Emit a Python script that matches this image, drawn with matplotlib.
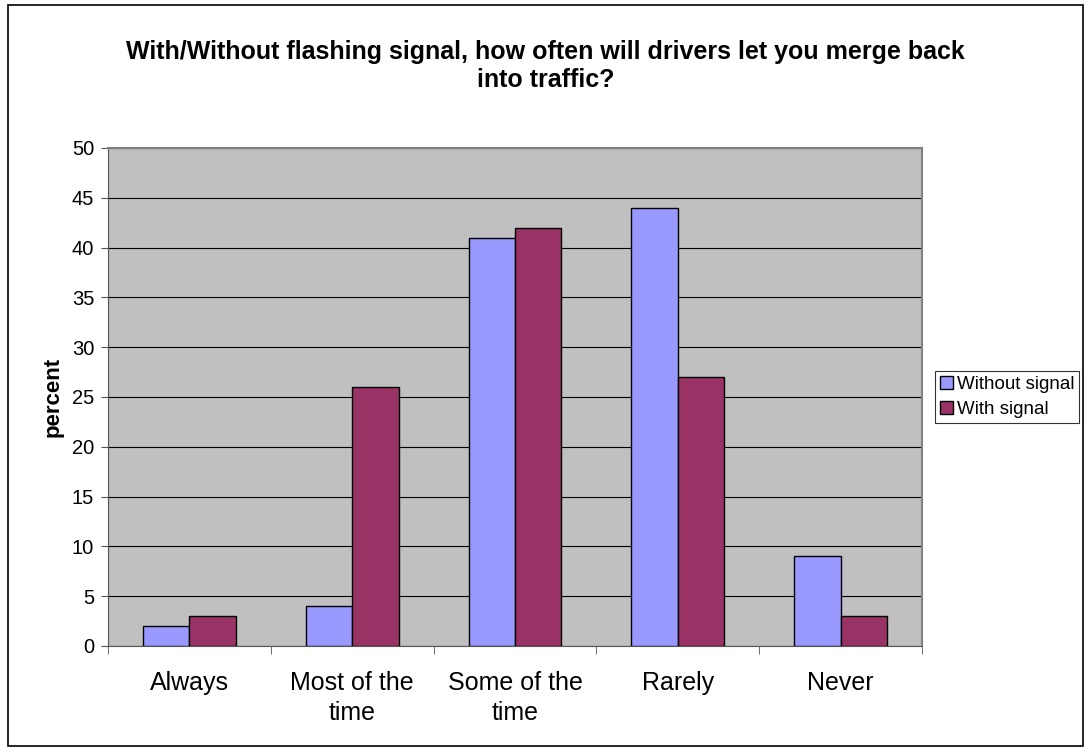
import numpy as np
import matplotlib.pyplot as plt
from matplotlib.patches import Rectangle

# survey answers (percent)
categories = ['Always', 'Most of the\ntime', 'Some of the\ntime', 'Rarely', 'Never']
without_signal = [2, 4, 41, 44, 9]
with_signal = [3, 26, 42, 27, 3]

plt.rcParams['font.family'] = ['Liberation Sans', 'DejaVu Sans']

fig = plt.figure(figsize=(10.91, 7.53), dpi=100)
ax = fig.add_axes([0.0990, 0.1421, 0.7461, 0.6614])

x = np.arange(len(categories))
w = 0.285
ax.bar(x - w / 2, without_signal, w, color='#9999FF', edgecolor='black',
       linewidth=1, label='Without signal', zorder=3)
ax.bar(x + w / 2, with_signal, w, color='#993366', edgecolor='black',
       linewidth=1, label='With signal', zorder=3)

ax.set_facecolor('#C0C0C0')
ax.set_xlim(-0.5, len(categories) - 0.5)
ax.set_ylim(0, 50)
ax.set_yticks(range(0, 51, 5))
ax.yaxis.grid(True, color='black', linewidth=0.8, zorder=1)
ax.set_axisbelow(True)

ax.set_xticks(x)
ax.set_xticklabels(categories, fontsize=18, linespacing=1.3)
ax.set_xticks(np.arange(-0.5, len(categories)), minor=True)
ax.tick_params(axis='x', which='major', length=0, pad=18)
ax.tick_params(axis='x', which='minor', length=6, direction='out', color='#555555')
ax.tick_params(axis='y', labelsize=14.5, length=5, pad=5, direction='out', color='#555555')

for side in ['top', 'right']:
    ax.spines[side].set_color('#808080')
    ax.spines[side].set_linewidth(1.5)
for side in ['left', 'bottom']:
    ax.spines[side].set_color('#555555')

ax.set_ylabel('percent', fontsize=16, fontweight='bold', labelpad=6)

fig.text(0.5, 0.912,
         'With/Without flashing signal, how often will drivers let you merge back\ninto traffic?',
         ha='center', va='center', fontsize=18, fontweight='bold', linespacing=1.2)

leg = ax.legend(loc='center left', bbox_to_anchor=(1.016, 0.50), fontsize=13.5,
                frameon=True, fancybox=False, edgecolor='black', borderpad=0.25,
                handlelength=0.7, handleheight=0.7, handletextpad=0.2,
                labelspacing=0.4, borderaxespad=0)
leg.get_frame().set_linewidth(0.8)

# outer chart border
fig.patches.append(Rectangle((0.007, 0.009), 0.986, 0.984, transform=fig.transFigure,
                             fill=False, edgecolor='black', linewidth=1.2))

fig.savefig('out.png', dpi=100)
